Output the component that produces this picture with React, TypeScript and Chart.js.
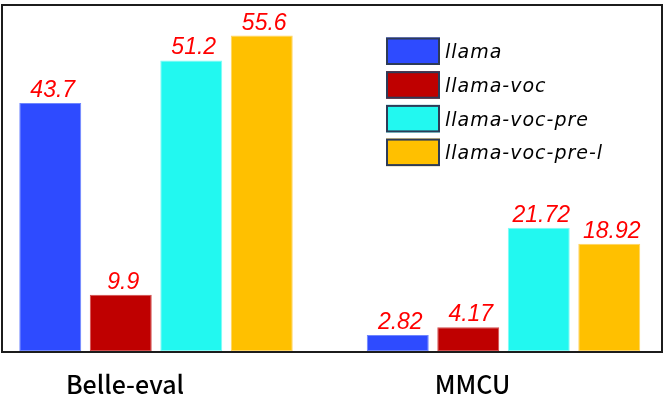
import React, { useEffect, useRef } from "react";
import { Chart, registerables } from "chart.js";

Chart.register(...registerables);

const categories = ["Belle-eval", "MMCU"];
const seriesNames = ["llama", "llama-voc", "llama-voc-pre", "llama-voc-pre-l"];
const llama = [43.7, 2.82];
const llamaVoc = [9.9, 4.17];
const llamaVocPre = [51.2, 21.72];
const llamaVocPreL = [55.6, 18.92];
const seriesValues = [llama, llamaVoc, llamaVocPre, llamaVocPreL];

const fillColors = ["#2E4BFF", "#BF0000", "#22F8F0", "#FFC000"];
const edgeColors = ["#6F86FF", "#D24C4C", "#80FBF6", "#FFD460"];

// hand-drawn frame around the plot area
const framePlugin = {
  id: "frame",
  afterDraw(chart: any) {
    const { ctx, chartArea } = chart;
    ctx.save();
    ctx.strokeStyle = "#1c1c1c";
    ctx.lineWidth = 2;
    ctx.strokeRect(
      chartArea.left - 1,
      chartArea.top - 1,
      chartArea.right - chartArea.left + 2,
      chartArea.bottom - chartArea.top + 2
    );
    ctx.restore();
  },
};

const valueLabelPlugin = {
  id: "valueLabels",
  afterDatasetsDraw(chart: any) {
    const { ctx } = chart;
    ctx.save();
    ctx.font = 'italic 23px "Liberation Sans", Arial, sans-serif';
    ctx.fillStyle = "#ff0000";
    ctx.textAlign = "center";
    ctx.textBaseline = "alphabetic";
    seriesValues.forEach((values, di) => {
      chart.getDatasetMeta(di).data.forEach((bar: any, i: number) => {
        ctx.fillText(String(values[i]), bar.x + 2.5, bar.y - 6);
      });
    });
    ctx.restore();
  },
};

// legend box sitting inside the plot, top right
const legendPlugin = {
  id: "boxLegend",
  afterDraw(chart: any) {
    const { ctx } = chart;
    const left = 386;
    const top = 37.5;
    const w = 54;
    const h = 27.5;
    const step = 33.7;
    ctx.save();
    seriesNames.forEach((name, i) => {
      const y = top + i * step;
      ctx.fillStyle = fillColors[i];
      ctx.fillRect(left, y, w, h);
      ctx.strokeStyle = "#2D3B57";
      ctx.lineWidth = 2;
      ctx.strokeRect(left + 1, y + 1, w - 2, h - 2);
      ctx.fillStyle = "#000";
      ctx.font = 'italic 19px "DejaVu Sans", sans-serif';
      ctx.letterSpacing = "1px";
      ctx.textAlign = "left";
      ctx.textBaseline = "alphabetic";
      ctx.fillText(name, left + w + 5, y + h / 2 + 7);
    });
    ctx.restore();
  },
};

const App: React.FC = () => {
  const canvasRef = useRef<HTMLCanvasElement>(null);

  useEffect(() => {
    if (!canvasRef.current) return;
    const chart = new Chart(canvasRef.current, {
      type: "bar",
      data: {
        datasets: seriesNames.map((name, di) => ({
          label: name,
          data: seriesValues[di].map((v, i) => ({ x: i, y: v })),
          backgroundColor: fillColors[di],
          borderColor: edgeColors[di],
          borderWidth: 1,
          borderSkipped: false,
          categoryPercentage: 0.8115,
          barPercentage: 0.879,
        })),
      },
      options: {
        animation: false,
        responsive: true,
        maintainAspectRatio: false,
        layout: { padding: { left: 3, right: 3, top: 6, bottom: 0 } },
        plugins: {
          legend: { display: false },
          tooltip: { enabled: false },
        },
        scales: {
          x: {
            type: "linear",
            offset: false,
            min: -0.4403,
            max: 1.4532,
            grid: { display: false, drawTicks: false, offset: false },
            border: { display: false },
            afterBuildTicks: (axis: any) => {
              axis.ticks = categories.map((_, i) => ({ value: i }));
            },
            afterFit: (axis: any) => {
              axis.height = 61;
            },
            ticks: {
              autoSkip: false,
              maxRotation: 0,
              padding: 18,
              labelOffset: -31,
              color: "#000",
              font: { family: '"Noto Sans CJK SC", sans-serif', size: 25, weight: "500" },
              callback: (v: any) => categories[v] ?? "",
            },
          },
          y: { display: false, min: 0, max: 60.8 },
        },
      } as any,
      plugins: [framePlugin, valueLabelPlugin, legendPlugin],
    });

    return () => {
      chart.destroy();
    };
  }, []);

  return (
    <div style={{ position: "absolute", left: 0, top: 0, width: 664, height: 412, background: "#fff" }}>
      <canvas ref={canvasRef} />
    </div>
  );
};

export default App;
